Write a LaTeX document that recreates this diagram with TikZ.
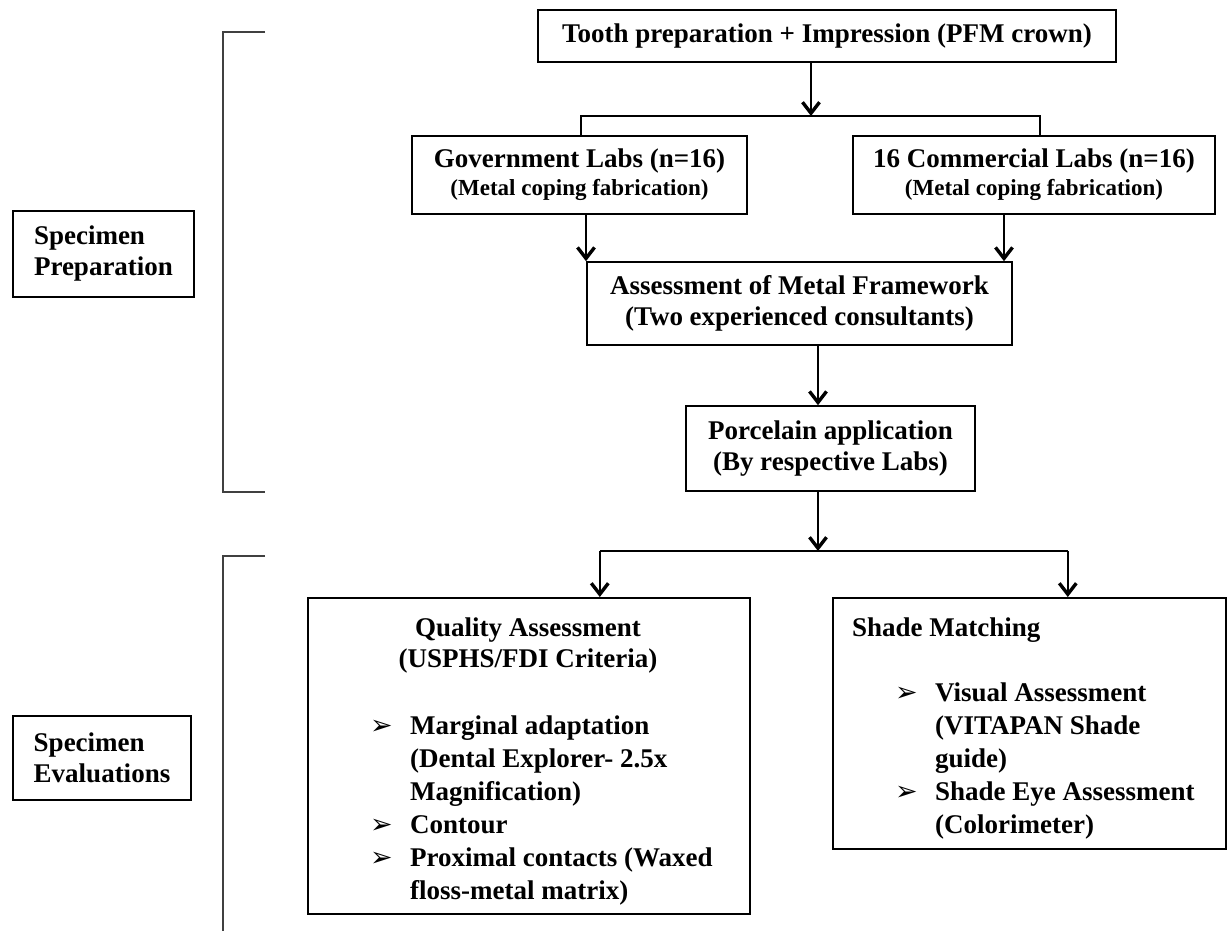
\documentclass[tikz,border=0pt]{standalone}
\usepackage{fontspec}
\setmainfont{Liberation Serif}
\newfontfamily\arrowfont{DejaVu Sans}
\usetikzlibrary{positioning, arrows.meta}

\newcommand{\bul}{\makebox[40pt][l]{\arrowfont\fontsize{27}{27}\selectfont ➢}}
\newcommand{\ind}{\hspace*{40pt}}

\tikzset{
    box/.style={draw, line width=1.6pt, inner sep=0pt, align=center, font=\bfseries\fontsize{27}{31}\selectfont},
    txt/.style={inner sep=0pt, font=\bfseries\fontsize{27}{33}\selectfont},
    link/.style={line width=1.8pt},
    arr/.style={line width=1.8pt, -{Straight Barb[length=11pt, width=17pt, line width=3.4pt]}},
    bracket/.style={line width=2.6pt, black!75}
}

\begin{document}
\begin{tikzpicture}[x=1pt, y=-1pt]
    \useasboundingbox (0,0) rectangle (1227,931);

    \node[box, minimum width=578pt, minimum height=52pt] (tooth) at (827,36) {Tooth preparation + Impression (PFM crown)};
    \node[box, minimum width=335pt, minimum height=78pt] (gov) at (579.5,175) {Government Labs (n=16)\\[-3pt]{\fontsize{23}{26}\selectfont(Metal coping fabrication)}};
    \node[box, minimum width=362pt, minimum height=78pt] (com) at (1034,175) {16 Commercial Labs (n=16)\\[-3pt]{\fontsize{23}{26}\selectfont(Metal coping fabrication)}};
    \node[box, minimum width=425pt, minimum height=83pt] (fw) at (799.5,303.5) {Assessment of Metal Framework\\(Two experienced consultants)};
    \node[box, minimum width=289pt, minimum height=85pt] (por) at (830.5,448.5) {Porcelain application\\(By respective Labs)};
    \node[box, anchor=north west, minimum width=442pt, minimum height=316pt] (qual) at (307,597) {};
    \node[box, anchor=north west, minimum width=393pt, minimum height=251pt] (shade) at (832,597) {};

    \node[box, minimum width=181pt, minimum height=86pt, align=left] (prep) at (103.5,254) {Specimen\\Preparation};
    \node[box, minimum width=178pt, minimum height=84pt, align=left] (eval) at (102,758) {Specimen\\Evaluations};

    \node[txt, anchor=north, align=center, font=\bfseries\fontsize{27}{31}\selectfont] (qualtitle) at (528,618) {Quality Assessment\\(USPHS/FDI Criteria)};
    \node[txt, anchor=north west, align=left] (quallist) at (370,716) {\bul Marginal adaptation\\ \ind(Dental Explorer- 2.5x\\ \ind Magnification)\\ \bul Contour\\ \bul Proximal contacts (Waxed\\ \ind floss-metal matrix)};
    \node[txt, anchor=north west] (shadetitle) at (852,618) {Shade Matching};
    \node[txt, anchor=north west, align=left] (shadelist) at (895,683) {\bul Visual Assessment\\ \ind(VITAPAN Shade\\ \ind guide)\\ \bul Shade Eye Assessment\\ \ind(Colorimeter)};

    \coordinate (split1) at (811,116);
    \coordinate (split2) at (818,551);

    \draw[arr] (tooth.south -| split1) -- (split1);
    \draw[link] ([xshift=1.5pt]gov.north) |- (split1) -| ([xshift=6pt]com.north);
    \draw[arr] ([xshift=6.5pt]gov.south) -- ([xshift=6.5pt]gov.south |- fw.north);
    \draw[arr] ([xshift=-30pt]com.south) -- ([xshift=-30pt]com.south |- fw.north);
    \draw[arr] ([xshift=-12.5pt]por.north |- fw.south) -- ([xshift=-12.5pt]por.north);
    \draw[arr] ([xshift=-12.5pt]por.south) -- (split2);
    \draw[link] ([xshift=71pt]qual.north |- split2) -- ([xshift=38.5pt]shade.north |- split2);
    \draw[arr] ([xshift=71pt]qual.north |- split2) -- ([xshift=71pt]qual.north);
    \draw[arr] ([xshift=38.5pt]shade.north |- split2) -- ([xshift=38.5pt]shade.north);

    \draw[bracket] (265,32) -- (223,32) -- (223,492) -- (265,492);
    \draw[bracket] (265,556) -- (223,556) -- (223,931);
\end{tikzpicture}
\end{document}
